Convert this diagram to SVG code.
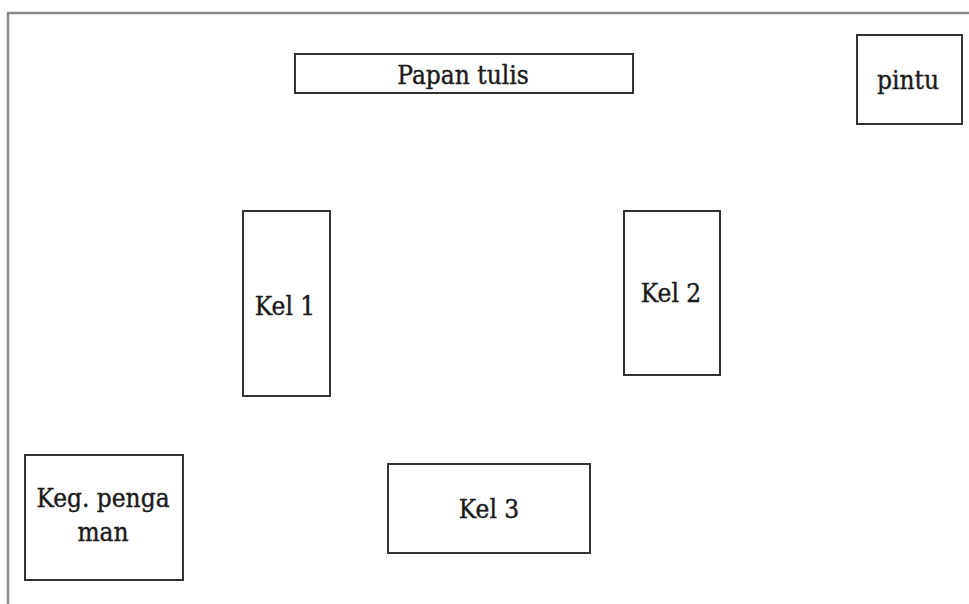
<svg xmlns="http://www.w3.org/2000/svg" width="969" height="604" viewBox="0 0 969 604">
<style>
.box{fill:#fff;stroke:#333;stroke-width:2}
.frame{fill:none;stroke:#8a8a8a;stroke-width:2.5}
.t{font-family:'DejaVu Serif',serif;font-stretch:condensed;font-size:26px;fill:#1a1a1a;stroke:#1a1a1a;stroke-width:0.4;text-anchor:middle}
</style>
<rect width="969" height="604" fill="#fff"/>
<path class="frame" d="M8,604 V13 H969"/>
<g id="papan-tulis"><rect class="box" x="295" y="54" width="338" height="39"/><text class="t" x="463" y="84">Papan tulis</text></g>
<g id="pintu"><rect class="box" x="857" y="35" width="105" height="89"/><text class="t" x="908" y="89">pintu</text></g>
<g id="kel1"><rect class="box" x="243" y="211" width="87" height="185"/><text class="t" x="285" y="315">Kel 1</text></g>
<g id="kel2"><rect class="box" x="624" y="211" width="96" height="164"/><text class="t" x="671" y="302">Kel 2</text></g>
<g id="keg-pengaman"><rect class="box" x="25" y="455" width="158" height="125"/><text class="t" x="103" y="507">Keg. penga</text><text class="t" x="103" y="541">man</text></g>
<g id="kel3"><rect class="box" x="388" y="464" width="202" height="89"/><text class="t" x="489" y="518">Kel 3</text></g>
<g id="connectors"/>
</svg>
